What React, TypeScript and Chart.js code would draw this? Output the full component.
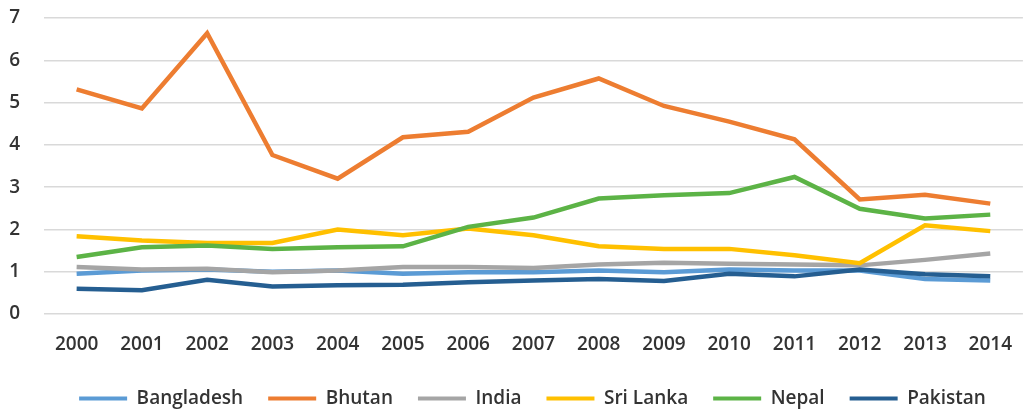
import React, { useEffect, useRef } from "react";
import { Chart, registerables } from "chart.js";

Chart.register(...registerables);

const years = ["2000","2001","2002","2003","2004","2005","2006","2007","2008","2009","2010","2011","2012","2013","2014"];

const bangladesh = [0.95,1.03,1.05,1.0,1.03,0.95,0.99,0.99,1.03,0.99,1.05,1.03,1.03,0.83,0.79];
const bhutan = [5.31,4.86,6.64,3.76,3.2,4.18,4.31,5.12,5.57,4.92,4.55,4.13,2.71,2.82,2.61];
const india = [1.11,1.05,1.07,0.99,1.03,1.11,1.11,1.09,1.17,1.21,1.19,1.17,1.15,1.28,1.43];
const sriLanka = [1.84,1.74,1.68,1.68,2.0,1.86,2.02,1.86,1.6,1.54,1.54,1.39,1.2,2.1,1.96];
const nepal = [1.35,1.58,1.62,1.54,1.58,1.6,2.06,2.28,2.73,2.81,2.86,3.24,2.49,2.26,2.35];
const pakistan = [0.6,0.56,0.81,0.65,0.68,0.69,0.75,0.79,0.83,0.78,0.95,0.89,1.05,0.94,0.89];

const seriesNames = ["Bangladesh","Bhutan","India","Sri Lanka","Nepal","Pakistan"];
const seriesColors = ["#5B9BD5","#ED7D31","#A5A5A5","#FFC000","#5CB346","#255E91"];
const yTicks = [0,1,2,3,4,5,6,7];

const FONT = "'Open Sans', sans-serif";

export default function App() {
  const ref = useRef<HTMLCanvasElement | null>(null);

  useEffect(() => {
    document.body.style.margin = "0";
    const seriesData = [bangladesh, bhutan, india, sriLanka, nepal, pakistan];
    const shiftLegend = {
      id: "shiftLegend",
      afterLayout(chart: any) {
        if (chart.legend) {
          chart.legend.left += 17;
          chart.legend.right += 17;
        }
      },
    };
    const chart = new Chart(ref.current as HTMLCanvasElement, {
      type: "line",
      data: {
        labels: years,
        datasets: seriesData.map((d, i) => ({
          label: seriesNames[i],
          data: d,
          borderColor: seriesColors[i],
          backgroundColor: seriesColors[i],
          borderWidth: 4.5,
          pointRadius: 0,
          tension: 0,
          order: seriesNames.length - i,
        })),
      },
      options: {
        animation: false,
        responsive: false,
        maintainAspectRatio: false,
        layout: { padding: { top: 18, right: -8, bottom: 0, left: 0 } },
        plugins: {
          tooltip: { enabled: false },
          legend: {
            position: "bottom",
            maxHeight: 47,
            labels: {
              boxWidth: 48,
              boxHeight: 4,
              padding: 25,
              color: "#333333",
              font: { family: FONT, size: 19, weight: "600" },
              sort: (a: any, b: any) => a.datasetIndex - b.datasetIndex,
              generateLabels: (c: any) =>
                Chart.defaults.plugins.legend.labels.generateLabels(c).map((l: any) => ({
                  ...l,
                  lineWidth: 0,
                  fillStyle: l.strokeStyle,
                })),
            },
          },
        },
        scales: {
          x: {
            offset: true,
            grid: { display: false },
            border: { display: false },
            ticks: {
              color: "#333333",
              font: { family: FONT, size: 19, weight: "600" },
              padding: 11,
              maxRotation: 0,
              autoSkip: false,
            },
            afterFit: (s: any) => {
              s.height = 50;
            },
          },
          y: {
            min: 0,
            max: 7,
            grid: { color: "#D9D9D9", lineWidth: 1.5, drawTicks: false },
            border: { display: false },
            afterBuildTicks: (s: any) => {
              s.ticks = yTicks.map((v) => ({ value: v }));
            },
            ticks: {
              color: "#333333",
              font: { family: FONT, size: 19, weight: "600" },
              padding: 24,
            },
            afterFit: (s: any) => {
              s.width = 44;
              s.paddingTop = 0;
              s.paddingBottom = 0;
            },
          },
        },
      },
      plugins: [shiftLegend],
    } as any);
    return () => chart.destroy();
  }, []);

  return (
    <div style={{ width: 1023, height: 411, background: "#fff" }}>
      <canvas ref={ref} width={1023} height={411} style={{ display: "block" }} />
    </div>
  );
}
